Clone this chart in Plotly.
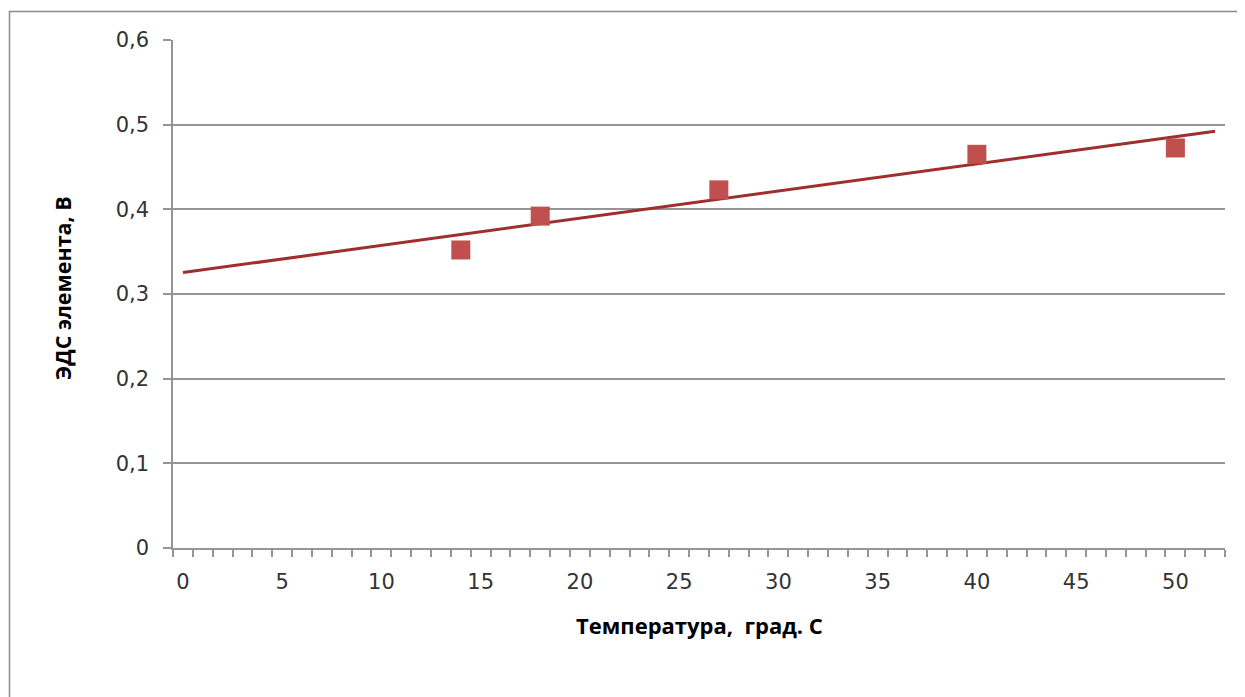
import numpy as np
import plotly.graph_objects as go

# Data
temperature = [14, 18, 27, 40, 50]
emf = [0.352, 0.392, 0.423, 0.465, 0.4725]

x_tick_vals = [0, 5, 10, 15, 20, 25, 30, 35, 40, 45, 50]
y_tick_vals = [0, 0.1, 0.2, 0.3, 0.4, 0.5, 0.6]
y_tick_text = ["0", "0,1", "0,2", "0,3", "0,4", "0,5", "0,6"]

x_title = "Температура,  град. С"
y_title = "ЭДС элемента, В"

# Linear trendline (least squares) over the data, drawn from 0 to 52
slope, intercept = np.polyfit(temperature, emf, 1)
trend_x = [0, 52]
trend_y = [intercept + slope * v for v in trend_x]

OFF = 8  # page body margin
W, H = 1245 - OFF, 697 - OFF
L, R, T, B = 173 - OFF, 20, 40 - OFF, 149
pw, ph = W - L - R, H - T - B

def px_x(p):
    return (p - OFF - L) / pw

def px_y(p):
    return (H - B - (p - OFF)) / ph

GRID = "#959595"
TXT = "#333333"
FONT = "Open Sans"
TICKFONT = "DejaVu Sans"

fig = go.Figure()
fig.add_trace(go.Scatter(
    x=trend_x, y=trend_y, mode="lines",
    line=dict(color="#9E2F2C", width=3),
    showlegend=False, hoverinfo="skip",
))
fig.add_trace(go.Scatter(
    x=temperature, y=emf, mode="markers",
    marker=dict(symbol="square", size=19, color="#C0504D", line=dict(width=0)),
    showlegend=False,
))

fig.update_layout(
    width=W, height=H,
    margin=dict(l=L, r=R, t=T, b=B),
    paper_bgcolor="white", plot_bgcolor="white",
    font=dict(family=TICKFONT, color=TXT, size=21),
    shapes=[dict(
        type="rect", xref="paper", yref="paper",
        x0=px_x(9.5), x1=px_x(1270), y0=px_y(720), y1=px_y(11.5),
        line=dict(color="#8A8A8A", width=1.5), layer="below",
    )],
    annotations=[
        dict(text="<b>" + x_title + "</b>", xref="paper", yref="paper",
             x=px_x(699), y=px_y(625), showarrow=False,
             font=dict(family=FONT, size=22, color="#000000"),
             xanchor="center", yanchor="middle"),
        dict(text="<b>" + y_title + "</b>", xref="paper", yref="paper",
             x=px_x(62), y=px_y(288), showarrow=False, textangle=-90,
             font=dict(family=FONT, size=21.5, color="#000000"),
             xanchor="center", yanchor="middle"),
    ],
)

fig.update_xaxes(
    range=[-0.5, 52.5],
    tickvals=x_tick_vals,
    ticks="outside", ticklen=8, tickcolor="rgba(0,0,0,0)",
    ticklabelstandoff=6,
    minor=dict(tick0=-0.5, dtick=1, ticks="outside", ticklen=7,
               tickcolor=GRID, tickwidth=1.5, showgrid=False),
    showline=True, linecolor=GRID, linewidth=1.5,
    showgrid=False, zeroline=False,
    tickfont=dict(family=TICKFONT, size=21, color=TXT),
)
fig.update_yaxes(
    range=[0, 0.6],
    tickvals=y_tick_vals, ticktext=y_tick_text,
    ticks="outside", ticklen=8, tickcolor=GRID, tickwidth=1.5,
    ticklabelstandoff=10,
    showline=True, linecolor=GRID, linewidth=1.5,
    showgrid=True, gridcolor=GRID, gridwidth=1.5,
    zeroline=False,
    tickfont=dict(family=TICKFONT, size=21, color=TXT),
)

fig.write_html("out.html")
